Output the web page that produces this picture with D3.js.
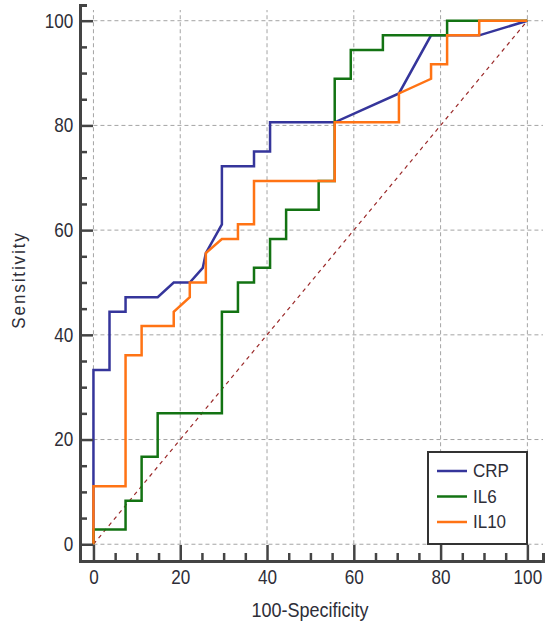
<!DOCTYPE html>
<html>
<head>
<meta charset="utf-8">
<script src="https://cdn.jsdelivr.net/npm/d3@7"></script>
<style>
  body { margin: 0; background: #fff; }
  text { font-family: "Liberation Sans", Arial, sans-serif; fill: #2e2e38; }
</style>
</head>
<body>
<div id="chart"></div>
<script>
// ROC points as [100-Specificity, Sensitivity]
const crp = [[0,0],[0,33.3],[3.7,33.3],[3.7,44.4],[7.4,44.4],[7.4,47.2],[14.8,47.2],[18.5,50],[22.2,50],
  [25.2,52.8],[25.9,55.6],[29.6,61.1],[29.6,72.2],[37,72.2],[37,75],[40.7,75],[40.7,80.6],[55.6,80.6],
  [70.4,86.1],[77.8,97.2],[88.9,97.2],[100,100]]
const il6 = [[0,0],[0,2.8],[7.4,2.8],[7.4,8.3],[11.1,8.3],[11.1,16.7],[14.8,16.7],[14.8,25],[29.6,25],
  [29.6,44.4],[33.3,44.4],[33.3,50],[37,50],[37,52.8],[40.7,52.8],[40.7,58.3],[44.4,58.3],[44.4,63.9],
  [51.9,63.9],[51.9,69.4],[55.6,69.4],[55.6,88.9],[59.3,88.9],[59.3,94.4],[66.7,94.4],[66.7,97.2],
  [81.5,97.2],[81.5,100],[100,100]]
const il10 = [[0,0],[0,11.1],[7.4,11.1],[7.4,36.1],[11.1,36.1],[11.1,41.7],[18.5,41.7],[18.5,44.4],
  [22.2,47.2],[22.2,50],[25.9,50],[25.9,55.6],[29.6,58.3],[33.3,58.3],[33.3,61.1],[37,61.1],[37,69.4],
  [55.6,69.4],[55.6,80.6],[70.4,80.6],[70.4,86.1],[77.8,88.9],[77.8,91.7],[81.5,91.7],[81.5,97.2],
  [88.9,97.2],[88.9,100],[100,100]]
const diagonal = [[0,0],[100,100]]

const seriesNames = ['CRP', 'IL6', 'IL10']
const seriesColors = ['#35359b', '#137313', '#ff7314']
const seriesData = [crp, il6, il10]

const majorTicks = [0, 20, 40, 60, 80, 100]
const minorTicks = d3.range(0, 101, 5).filter((d) => d % 20 !== 0)

const width = 545
const height = 622

const svg = d3.select('#chart')
  .append('svg')
  .attr('width', width)
  .attr('height', height)

const x = d3.scaleLinear().domain([-3.1, 103.6]).range([80, 543])
const y = d3.scaleLinear().domain([-3.2, 103]).range([561, 5])

// grid
svg.append('g')
  .selectAll('line')
  .data(majorTicks)
  .join('line')
  .attr('x1', x(0))
  .attr('x2', x.range()[1])
  .attr('y1', (d) => y(d))
  .attr('y2', (d) => y(d))
  .attr('stroke', '#a4a4a4')
  .attr('stroke-dasharray', '4,3')
svg.append('g')
  .selectAll('line')
  .data(majorTicks)
  .join('line')
  .attr('x1', (d) => x(d))
  .attr('x2', (d) => x(d))
  .attr('y1', y(0))
  .attr('y2', 10)
  .attr('stroke', '#a4a4a4')
  .attr('stroke-dasharray', '4,3')

// reference diagonal
const line = d3.line().x((d) => x(d[0])).y((d) => y(d[1]))
svg.append('path')
  .datum(diagonal)
  .attr('d', line)
  .attr('fill', 'none')
  .attr('stroke', '#9b2a2a')
  .attr('stroke-width', 1.2)
  .attr('stroke-dasharray', '4,4')

// curves
seriesData.forEach((data, i) => {
  svg.append('path')
    .datum(data)
    .attr('d', line)
    .attr('fill', 'none')
    .attr('stroke', seriesColors[i])
    .attr('stroke-width', 2.5)
})

// axes
const styleAxis = (g) => {
  g.selectAll('.domain').attr('stroke', '#444').attr('stroke-width', 3)
  g.selectAll('.tick line').attr('stroke', '#444').attr('stroke-width', 2.5)
  g.selectAll('.tick text').attr('font-size', 18).attr('fill', '#2e2e38')
    .attr('font-family', '"Liberation Sans", Arial, sans-serif')
    .attr('transform', 'scale(0.95,1.12)')
}

svg.append('g')
  .attr('transform', 'translate(80,0)')
  .call(d3.axisLeft(y).tickValues(minorTicks).tickSize(-7).tickFormat(''))
  .call(styleAxis)
svg.append('g')
  .attr('transform', 'translate(80,0)')
  .call(d3.axisLeft(y).tickValues(majorTicks).tickSizeInner(-13).tickSizeOuter(0).tickPadding(7))
  .call(styleAxis)

svg.append('g')
  .attr('transform', 'translate(0,561)')
  .call(d3.axisBottom(x).tickValues(minorTicks).tickSize(-8).tickFormat(''))
  .call(styleAxis)
svg.append('g')
  .attr('transform', 'translate(0,561)')
  .call(d3.axisBottom(x).tickValues(majorTicks).tickSizeInner(-16).tickSizeOuter(0).tickPadding(8))
  .call(styleAxis)

// axis titles
svg.append('text')
  .attr('transform', 'translate(25,280) rotate(-90) scale(1,1.08)')
  .attr('text-anchor', 'middle')
  .attr('font-size', 17)
  .attr('letter-spacing', 1.9)
  .text('Sensitivity')
svg.append('text')
  .attr('transform', 'translate(310,617) scale(1,1.08)')
  .attr('text-anchor', 'middle')
  .attr('font-size', 18)
  .text('100-Specificity')

// legend
const legend = svg.append('g').attr('transform', 'translate(428,452)')
legend.append('rect')
  .attr('width', 99)
  .attr('height', 92)
  .attr('fill', '#fff')
  .attr('stroke', '#333')
  .attr('stroke-width', 2)
seriesNames.forEach((name, i) => {
  const row = legend.append('g').attr('transform', `translate(0,${19 + i * 25.5})`)
  row.append('line')
    .attr('x1', 9)
    .attr('x2', 39)
    .attr('stroke', seriesColors[i])
    .attr('stroke-width', 2.5)
  row.append('text')
    .attr('x', 45)
    .attr('dy', '0.35em')
    .attr('font-size', 17)
    .attr('transform', 'scale(1,1.08)')
    .text(name)
})
</script>
</body>
</html>
